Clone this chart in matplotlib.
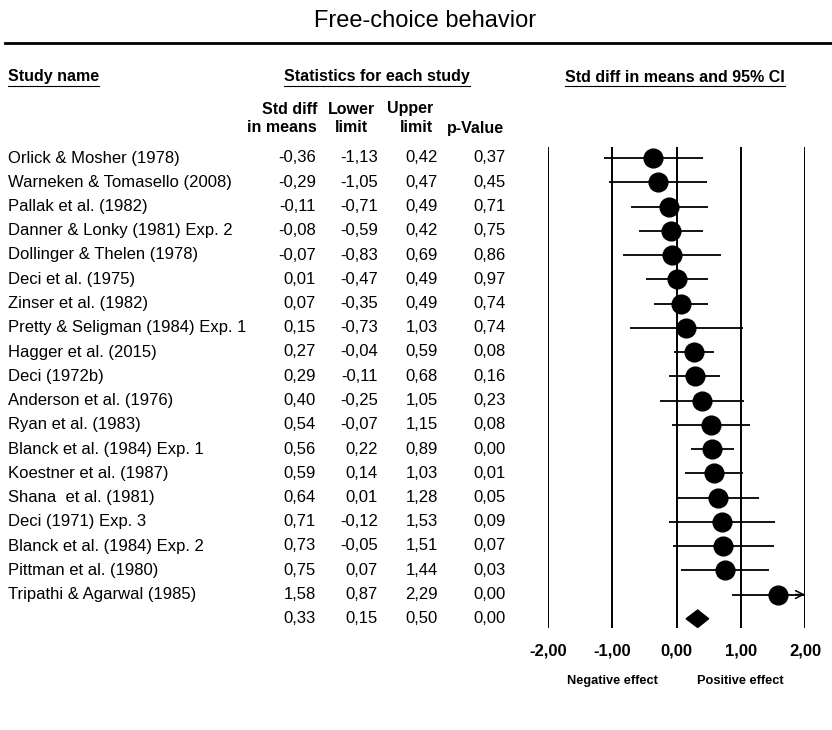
import matplotlib
matplotlib.use('Agg')
import matplotlib.pyplot as plt
from matplotlib.lines import Line2D
from matplotlib.transforms import blended_transform_factory

plt.rcParams['font.family'] = ['Liberation Sans', 'DejaVu Sans']

# Meta-analysis of free-choice behavior
studies = [
    'Orlick & Mosher (1978)', 'Warneken & Tomasello (2008)', 'Pallak et al. (1982)',
    'Danner & Lonky (1981) Exp. 2', 'Dollinger & Thelen (1978)', 'Deci et al. (1975)',
    'Zinser et al. (1982)', 'Pretty & Seligman (1984) Exp. 1', 'Hagger et al. (2015)',
    'Deci (1972b)', 'Anderson et al. (1976)', 'Ryan et al. (1983)',
    'Blanck et al. (1984) Exp. 1', 'Koestner et al. (1987)', 'Shana  et al. (1981)',
    'Deci (1971) Exp. 3', 'Blanck et al. (1984) Exp. 2', 'Pittman et al. (1980)',
    'Tripathi & Agarwal (1985)',
]
effect = [-0.36, -0.29, -0.11, -0.08, -0.07, 0.01, 0.07, 0.15, 0.27, 0.29,
          0.40, 0.54, 0.56, 0.59, 0.64, 0.71, 0.73, 0.75, 1.58]
lower = [-1.13, -1.05, -0.71, -0.59, -0.83, -0.47, -0.35, -0.73, -0.04, -0.11,
         -0.25, -0.07, 0.22, 0.14, 0.01, -0.12, -0.05, 0.07, 0.87]
upper = [0.42, 0.47, 0.49, 0.42, 0.69, 0.49, 0.49, 1.03, 0.59, 0.68,
         1.05, 1.15, 0.89, 1.03, 1.28, 1.53, 1.51, 1.44, 2.29]
pvalue = [0.37, 0.45, 0.71, 0.75, 0.86, 0.97, 0.74, 0.74, 0.08, 0.16,
          0.23, 0.08, 0.00, 0.01, 0.05, 0.09, 0.07, 0.03, 0.00]
summary = [0.33, 0.15, 0.50, 0.00]  # effect, lower, upper, p

axis_ticks = [-2, -1, 0, 1, 2]
axis_labels = ['-2,00', '-1,00', '0,00', '1,00', '2,00']


def fmt(v):
    return f'{v:.2f}'.replace('.', ',')


W, H = 832, 730
fig = plt.figure(figsize=(W / 100, H / 100), dpi=100)
fig.patch.set_facecolor('white')


def fy(py):
    # pixel row (from top) -> figure fraction
    return 1 - py / H


# forest panel, placed in pixel terms
x0, x1 = 548, 805
y_top, y_bot = 147, 628
ax = fig.add_axes([x0 / W, fy(y_bot), (x1 - x0) / W, (y_bot - y_top) / H])
row0, step = 158, 24.25
ax.set_xlim(-2, 2)
ax.set_ylim((y_bot - row0) / step, (y_top - row0) / step)
for s in ax.spines.values():
    s.set_visible(False)
ax.set_yticks([])
ax.set_xticks(axis_ticks)
ax.set_xticklabels(axis_labels, fontsize=12, fontweight='bold')
ax.tick_params(axis='x', length=0, pad=11)
for t in axis_ticks:
    ax.axvline(t, color='black', lw=1.4, zorder=1)

n = len(studies)
for i in range(n):
    ax.plot([lower[i], min(upper[i], 2)], [i, i], color='black', lw=1.3, zorder=2,
            solid_capstyle='butt')
    ax.plot(effect[i], i, 'o', color='black', ms=13.5, zorder=3)
    if upper[i] > 2:
        ax.annotate('', xy=(2, i), xytext=(1.85, i),
                    arrowprops=dict(arrowstyle='->', color='black', lw=1.1,
                                    mutation_scale=14, shrinkA=0, shrinkB=0))

# pooled estimate
es, lo, hi, _ = summary
ax.fill([lo, es, hi, es], [n, n - 0.36, n, n + 0.36], color='black', zorder=3)

# table text, one row per study plus the pooled row
tr = blended_transform_factory(fig.transFigure, ax.transData)
fs = 12
num_cols = [316, 378, 438, 506]
for i in range(n + 1):
    if i < n:
        ax.text(8 / W, i, studies[i], transform=tr, fontsize=fs, va='center', ha='left')
        vals = [effect[i], lower[i], upper[i], pvalue[i]]
    else:
        vals = summary
    for xc, v in zip(num_cols, vals):
        ax.text(xc / W, i, fmt(v), transform=tr, fontsize=fs, va='center', ha='right')

# titles and headers
fig.text(425 / W, fy(21), 'Free-choice behavior', fontsize=17, ha='center', va='center')
fig.add_artist(Line2D([5 / W, 1], [fy(43), fy(43)], color='black', lw=2.0,
                      transform=fig.transFigure))

hdr_font = dict(fontsize=11.5, fontweight='bold')
headers = [
    fig.text(8 / W, fy(77), 'Study name', ha='left', va='center', **hdr_font),
    fig.text(377 / W, fy(77), 'Statistics for each study', ha='center', va='center', **hdr_font),
    fig.text(675 / W, fy(77), 'Std diff in means and 95% CI', ha='center', va='center', **hdr_font),
]
fig.text(317 / W, fy(118), 'Std diff\nin means', ha='right', va='center',
         multialignment='right', linespacing=1.25, **hdr_font)
fig.text(351 / W, fy(118), 'Lower\nlimit', ha='center', va='center',
         linespacing=1.25, **hdr_font)
fig.text(433 / W, fy(118), 'Upper\nlimit', ha='right', va='center',
         multialignment='right', linespacing=1.25, **hdr_font)
fig.text(475 / W, fy(128), 'p-Value', ha='center', va='center', **hdr_font)

# underline the group headers
fig.canvas.draw()
renderer = fig.canvas.get_renderer()
for h in headers:
    bb = h.get_window_extent(renderer)
    yy = (bb.y0 - 1.5) / H
    fig.add_artist(Line2D([bb.x0 / W, bb.x1 / W], [yy, yy], color='black', lw=0.8,
                          transform=fig.transFigure))

tb = blended_transform_factory(ax.transData, fig.transFigure)
ax.text(-1, fy(681), 'Negative effect', transform=tb, ha='center', va='center',
        fontsize=9.2, fontweight='bold')
ax.text(1, fy(681), 'Positive effect', transform=tb, ha='center', va='center',
        fontsize=9.2, fontweight='bold')

fig.savefig('out.png', dpi=100, facecolor='white')
